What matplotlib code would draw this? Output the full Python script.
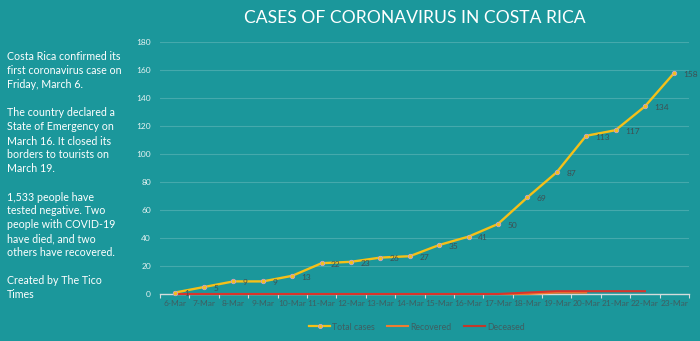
import matplotlib
matplotlib.use("Agg")
import matplotlib.pyplot as plt
import numpy as np
from matplotlib.lines import Line2D

dates = ["6-Mar", "7-Mar", "8-Mar", "9-Mar", "10-Mar", "11-Mar", "12-Mar", "13-Mar",
         "14-Mar", "15-Mar", "16-Mar", "17-Mar", "18-Mar", "19-Mar", "20-Mar", "21-Mar",
         "22-Mar", "23-Mar"]
total_cases = [1, 5, 9, 9, 13, 22, 23, 26, 27, 35, 41, 50, 69, 87, 113, 117, 134, 158]
recovered = [0, 0, 0, 0, 0, 0, 0, 0, 0, 0, 0, 0, 0, 1, 1]
deceased = [0, 0, 0, 0, 0, 0, 0, 0, 0, 0, 0, 0, 1, 2, 2, 2, 2]
y_ticks = [0, 20, 40, 60, 80, 100, 120, 140, 160, 180]

title = "CASES OF CORONAVIRUS IN COSTA RICA"
side_lines = [
    ("Costa Rica confirmed its", 57), ("first coronavirus case on", 71), ("Friday, March 6.", 85),
    ("The country declared a", 113), ("State of Emergency on", 127), ("March 16. It closed its", 141),
    ("borders to tourists on", 155), ("March 19.", 169),
    ("1,533 people have", 197), ("tested negative. Two", 211), ("people with COVID-19", 225),
    ("have died, and two", 239), ("others have recovered.", 253),
    ("Created by The Tico", 281), ("Times", 295),
]

BG = "#1b979b"
FONT = ["Lato", "DejaVu Sans"]
plt.rcParams["font.family"] = FONT

W, H = 700, 341
fig = plt.figure(figsize=(W / 100, H / 100), dpi=100, facecolor=BG)
ax = fig.add_axes([160 / W, 1 - 294 / H, (689 - 160) / W, (294 - 42) / H])
ax.set_facecolor(BG)

x = np.arange(len(dates))
ax.set_xlim(-0.5, len(dates) - 0.5)
ax.set_ylim(0, 180)

for yv in y_ticks[1:]:
    ax.axhline(yv, color="#45a9ac", lw=0.8, zorder=0)

ax.plot(np.arange(len(recovered)), recovered, color="#ed7d31", lw=1.5, zorder=3, clip_on=False)
ax.plot(np.arange(len(deceased)), deceased, color="#d9342b", lw=1.5, zorder=3.5, clip_on=False)
ax.plot(x, total_cases, color="#f5c018", lw=1.7, marker="o", markersize=3.2,
        markerfacecolor="#f5c018", markeredgecolor="#c9a3c9", markeredgewidth=0.6,
        zorder=4, clip_on=False)

for xi, v in zip(x, total_cases):
    ax.annotate(str(v), (xi, v), xytext=(6.8, -1), textcoords="offset points",
                ha="left", va="center", fontsize=6.0, color="#3f4f52", zorder=5)

for s in ["top", "right", "left"]:
    ax.spines[s].set_visible(False)
ax.spines["bottom"].set_color("#d5dcdc")
ax.spines["bottom"].set_linewidth(1.0)

ax.set_yticks(y_ticks)
ax.set_yticklabels([str(v) for v in y_ticks], fontsize=6.0, color="#e6f2f2")
ax.tick_params(axis="y", length=0, pad=6.5)

bounds = np.arange(-0.5, len(dates), 1.0)
ax.set_xticks(bounds, minor=False)
ax.set_xticklabels([""] * len(bounds))
ax.tick_params(axis="x", which="major", length=3, color="#d5dcdc", width=0.8)
ax.set_xticks(x, minor=True)
ax.set_xticklabels(dates, minor=True, fontsize=6.0, color="#3f5e61")
ax.tick_params(axis="x", which="minor", length=0, pad=4.5)

fig.text(415 / W, 1 - 18 / H, title, ha="center", va="center", fontsize=12.6, color="white")

for txt, yp in side_lines:
    fig.text(7 / W, 1 - yp / H, txt, ha="left", va="center", fontsize=7.65, color="white")

handles = [
    Line2D([], [], color="#f5c018", lw=1.6, marker="o", markersize=3,
           markerfacecolor="#f5c018", markeredgecolor="#c9a3c9", markeredgewidth=0.6),
    Line2D([], [], color="#ed7d31", lw=1.5),
    Line2D([], [], color="#c0392b", lw=1.5),
]
leg = fig.legend(handles, ["Total cases", "Recovered", "Deceased"], loc="center",
                 bbox_to_anchor=(417 / W, 1 - 327 / H), ncol=3, frameon=False,
                 fontsize=6.3, handlelength=2.4, handletextpad=0.25, columnspacing=1.4)
for t in leg.get_texts():
    t.set_color("#3f5e61")

fig.savefig("out.png", dpi=100, facecolor=BG)
